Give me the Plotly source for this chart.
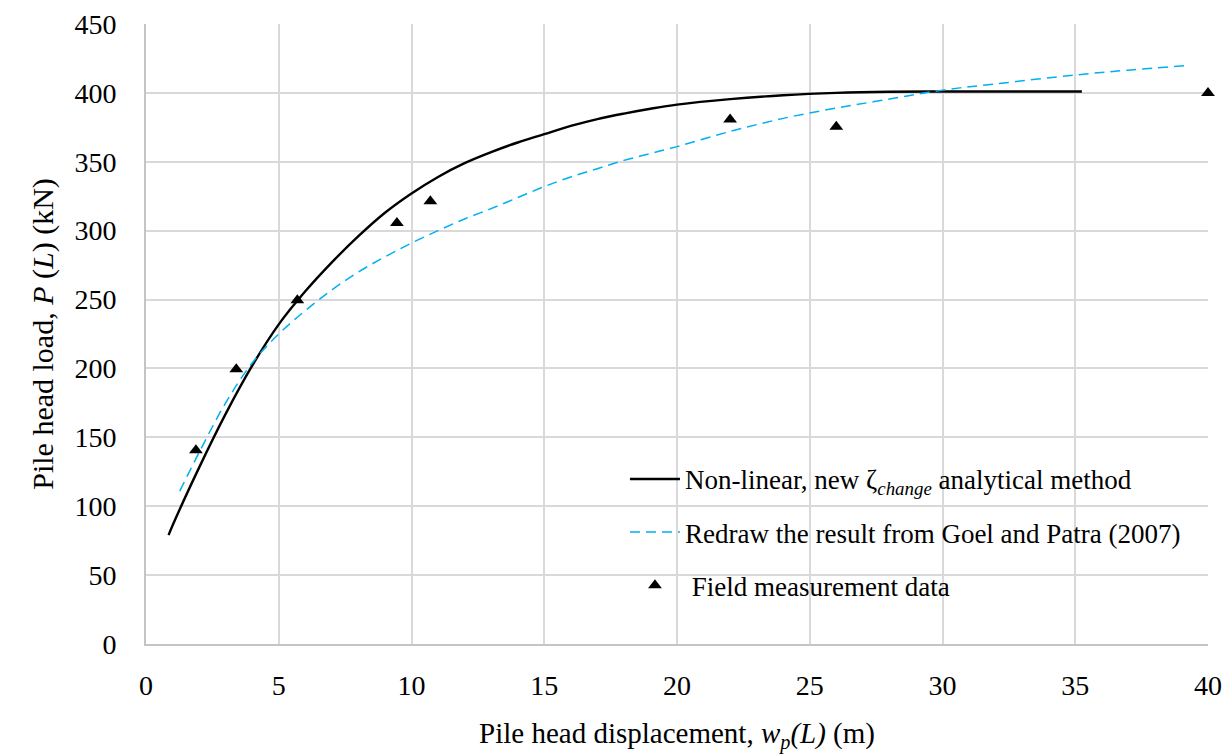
import plotly.graph_objects as go

# Non-linear, new zeta_change analytical method (black solid)
new_x = [0.85, 1, 2, 3, 4, 5, 6, 7, 8, 9, 10, 11, 12, 13, 14, 15, 16, 17, 18, 19, 20, 22, 24, 26, 28, 30, 32, 35.25]
new_y = [79, 86, 128, 167, 202, 232, 256, 277, 296, 313, 327, 339, 349, 357, 364, 370, 376, 381, 385, 388.5, 391.5, 395.5, 398.3, 400, 400.8, 401, 401, 401]

# Redraw of Goel and Patra (2007) (blue dashed)
goel_x = [1.27, 2, 3, 4, 5, 6, 7, 8, 9, 10, 11, 12, 13, 14, 15, 16, 17, 18, 19, 20, 22, 24, 26, 28, 30, 32, 35, 37, 39.27]
goel_y = [111, 139, 175, 204, 225, 242, 257, 270, 281, 291, 300, 308.5, 316, 324, 332, 339, 345, 351, 356, 361, 372, 381.5, 389, 395.5, 402, 406.5, 413, 416.5, 420]

# Field measurement data (triangles)
field_x = [1.88, 3.40, 5.70, 9.45, 10.71, 22.0, 26.0, 40.0]
field_y = [140.7, 199.5, 249.5, 305.6, 321.3, 380.7, 375.4, 400]

x_ticks = [0, 5, 10, 15, 20, 25, 30, 35, 40]
y_ticks = [0, 50, 100, 150, 200, 250, 300, 350, 400, 450]

FONT = "Liberation Serif"

fig = go.Figure()
fig.add_trace(go.Scatter(
    x=new_x, y=new_y, mode="lines",
    line=dict(color="black", width=2.4, shape="spline", smoothing=1.0),
    name="Non-linear, new ζ<sub><i>change</i></sub> analytical method",
    legendgroup="a",
))
fig.add_trace(go.Scatter(
    x=goel_x, y=goel_y, mode="lines",
    line=dict(color="#00B0F0", width=1.5, dash="10px,6px", shape="spline", smoothing=1.0),
    name="Redraw the result from Goel and Patra (2007)",
    legendgroup="b",
))
fig.add_trace(go.Scatter(
    x=field_x, y=field_y, mode="markers",
    marker=dict(symbol="triangle-up", color="black", size=12),
    name=" Field measurement data",
    legendgroup="c",
    cliponaxis=False,
))

fig.update_layout(
    width=1230, height=754,
    margin=dict(l=146, r=22, t=24, b=110),
    paper_bgcolor="white", plot_bgcolor="white",
    font=dict(family=FONT, size=27, color="black"),
    showlegend=True,
    legend=dict(
        x=0.451, y=0.305, xanchor="left", yanchor="top",
        bgcolor="rgba(0,0,0,0)", borderwidth=0,
        font=dict(family=FONT, size=27, color="black"),
        tracegroupgap=15, traceorder="grouped",
        itemwidth=50,
    ),
    xaxis=dict(
        range=[0, 40], tickvals=x_ticks, ticktext=[str(v) for v in x_ticks],
        showgrid=True, gridcolor="#d9d9d9", gridwidth=2,
        showline=True, linecolor="#c4c4c4", linewidth=2,
        zeroline=False,
        ticks="outside", ticklen=15, tickcolor="rgba(0,0,0,0)",
        tickfont=dict(family=FONT, size=28),
        title=dict(text="Pile head displacement, <i>w<sub>p</sub>(L)</i> (m)",
                   font=dict(family=FONT, size=29), standoff=24),
        automargin=False,
    ),
    yaxis=dict(
        range=[0, 450], tickvals=y_ticks, ticktext=[str(v) for v in y_ticks],
        showgrid=True, gridcolor="#d9d9d9", gridwidth=2,
        showline=True, linecolor="#c4c4c4", linewidth=2,
        zeroline=False,
        ticks="outside", ticklen=22, tickcolor="rgba(0,0,0,0)",
        tickfont=dict(family=FONT, size=28),
        title=dict(text="Pile head load, <i>P</i> (<i>L</i>) (kN)",
                   font=dict(family=FONT, size=30), standoff=12),
        automargin=False,
    ),
)

fig.write_html("out.html")
